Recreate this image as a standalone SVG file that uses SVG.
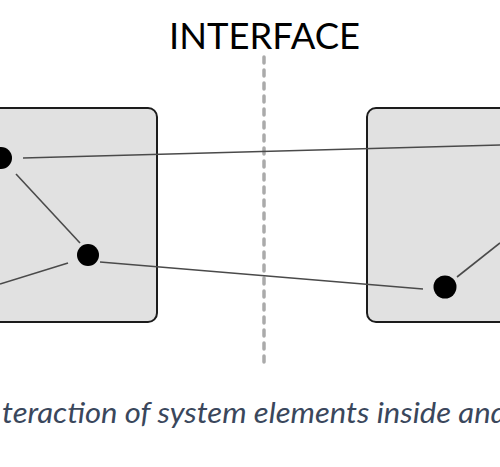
<svg xmlns="http://www.w3.org/2000/svg" width="500" height="467" viewBox="0 0 500 467">
<style>
.box{fill:#e1e1e1;stroke:#1c1c1c;stroke-width:2}
.node{fill:#000}
.link{stroke:#4a4a4a;stroke-width:1.6;fill:none}
.iface{stroke:#aaaaaa;stroke-width:3.5;stroke-linecap:round;stroke-dasharray:6 7;fill:none}
.title{font-family:Lato,"Liberation Sans",sans-serif;font-size:37px;fill:#000}
.caption{font-family:Lato,"Liberation Sans",sans-serif;font-style:italic;font-size:29px;fill:#3a475c}
</style>
<rect width="500" height="467" fill="#fff"/>
<g id="left-system"><rect class="box" x="-20" y="108" width="177" height="214" rx="9"/></g>
<g id="right-system"><rect class="box" x="367" y="108" width="160" height="214" rx="9"/></g>
<g id="interface"><line class="iface" x1="264" y1="57" x2="264" y2="362"/></g>
<g id="connectors">
<line class="link" x1="23" y1="158" x2="500" y2="145"/>
<line class="link" x1="100" y1="262" x2="423" y2="289"/>
<line class="link" x1="16" y1="174" x2="80" y2="243"/>
<line class="link" x1="68" y1="263" x2="0" y2="284"/>
<line class="link" x1="457" y1="277" x2="500" y2="243"/>
</g>
<g id="node-a"><circle class="node" cx="1" cy="158" r="11"/></g>
<g id="node-b"><circle class="node" cx="88" cy="255" r="11"/></g>
<g id="node-c"><circle class="node" cx="445" cy="287" r="11.5"/></g>
<g id="title"><text class="title" x="169" y="49" textLength="191" lengthAdjust="spacingAndGlyphs">INTERFACE</text></g>
<g id="caption"><text class="caption" x="2" y="423" textLength="505" lengthAdjust="spacingAndGlyphs">teraction of system elements inside and</text></g>
</svg>
